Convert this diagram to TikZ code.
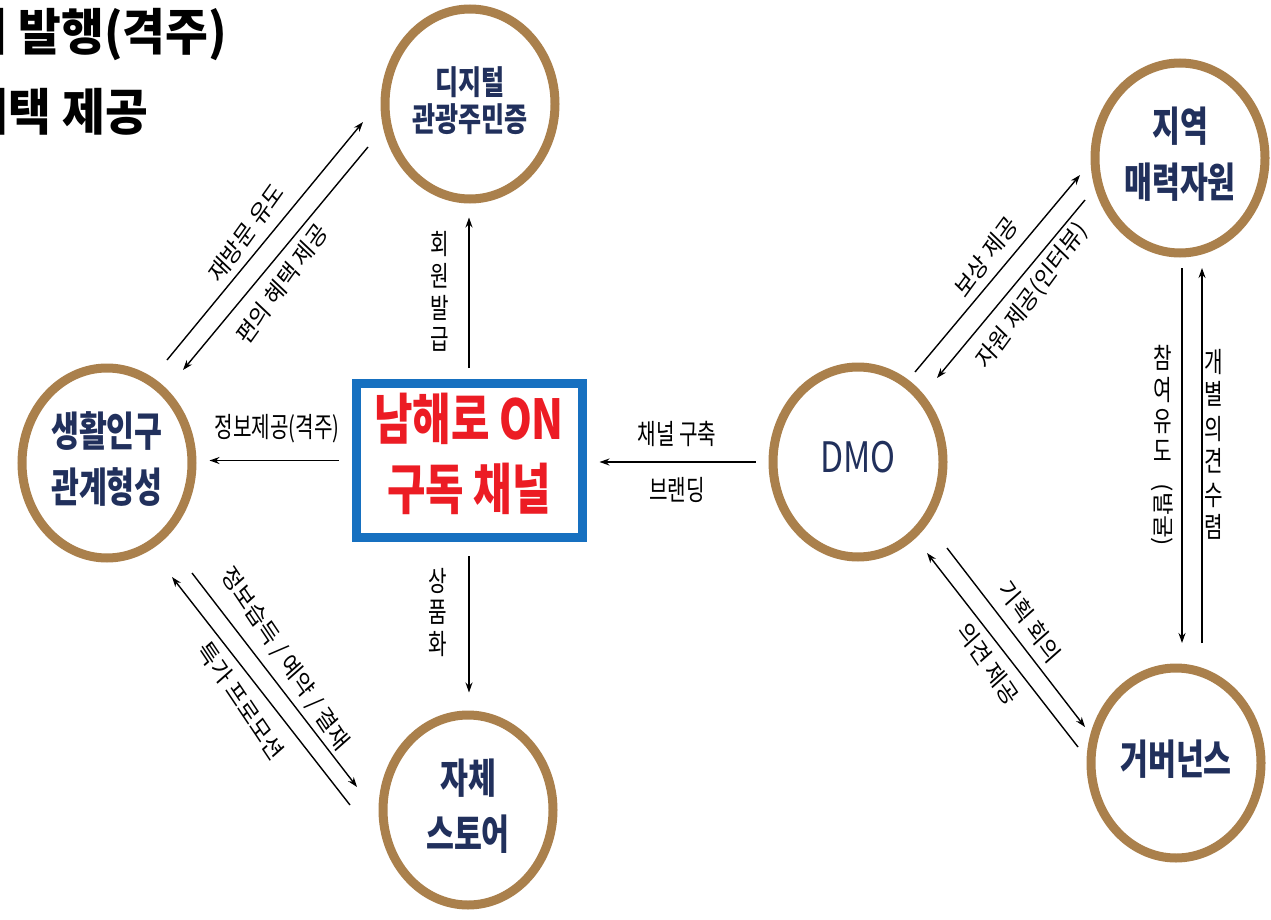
\documentclass[tikz,border=0pt]{standalone}
\usepackage{fontspec}
\usetikzlibrary{shapes.geometric,arrows.meta,shadows}
\newfontfamily\krfont{Noto Sans CJK KR}
\newcommand\sqz[2][0.74]{\scalebox{#1}[1]{\begin{tabular}{@{}c@{}}#2\end{tabular}}}
\definecolor{ringc}{RGB}{170,128,76}
\definecolor{navy}{RGB}{33,48,92}
\definecolor{boxblue}{RGB}{22,112,192}
\definecolor{redtxt}{RGB}{236,28,36}
\definecolor{edgec}{RGB}{212,218,232}
\pgfdeclareradialshading{orb}{\pgfpoint{-10bp}{10bp}}{color(0bp)=(white); color(32bp)=(white); color(62bp)=(edgec)}
\begin{document}
\begin{tikzpicture}[x=1pt,y=-1pt,
  place/.style={ellipse, draw=ringc, line width=9pt, minimum width=170pt, minimum height=190pt,
    inner sep=0pt, shading=orb, text=navy, align=center,
    font=\krfont\bfseries\fontsize{41}{56}\selectfont,
    drop shadow={shadow xshift=2pt, shadow yshift=-3pt, opacity=0.18}},
  chan/.style={draw=boxblue, line width=9pt, fill=white, minimum width=226pt, minimum height=154pt,
    inner sep=0pt, text=redtxt, align=center, font=\krfont\bfseries\fontsize{55}{70}\selectfont},
  lab/.style={font=\krfont\fontsize{28}{30}\selectfont, inner sep=0pt, text=black},
  dlab/.style={font=\krfont\fontsize{21.5}{24}\selectfont, inner sep=0pt, text=black, yscale=1.15},
  arr/.style={line width=1.4pt, -{Stealth[length=10pt,width=7pt]}},
  toptext/.style={anchor=east, inner sep=0pt, font=\krfont\bfseries\fontsize{50}{56}\selectfont}
]
\useasboundingbox (0,0) rectangle (1271,920);
\fill[white] (0,0) rectangle (1271,920);

% top-left heading (cut by the page edge, as in the reference)
\node[toptext] (t1) at (227,35) {\scalebox{0.93}[1]{소식지 발행(격주)}};
\node[toptext] (t2) at (148,112) {\scalebox{0.93}[1]{다양한 혜택 제공}};

% nodes
\node[place, font=\krfont\bfseries\fontsize{33}{32}\selectfont] (dig) at (470,104) {\raisebox{6pt}{\sqz[0.76]{디지털\\관광주민증}}};
\node[place] (life) at (107,463) {\sqz{생활인구\\관계형성}};
\node[place] (store) at (468,810) {\sqz{자체\\스토어}};
\node[place, font=\krfont\fontsize{42}{50}\selectfont] (dmo) at (858,462) {\sqz[0.8]{DMO}};
\node[place] (res) at (1180,158) {\raisebox{4pt}{\sqz{지역\\매력자원}}};
\node[place] (gov) at (1176,763) {\sqz{거버넌스}};
\node[chan] (chan) at (469,460.5) {\sqz[0.76]{남해로 ON\\구독 채널}};

% straight connectors
\draw[arr, shorten <=11pt, shorten >=14pt] (chan.north) -- (chan.north |- dig.south);
\draw[arr, shorten <=14pt, shorten >=18pt] (chan.south) -- (chan.south |- store.north);
\draw[arr, shorten <=13pt, shorten >=13pt] (chan.west) -- (chan.west -| life.east);
\draw[arr, shorten <=13pt, shorten >=13pt] (dmo.west) -- (dmo.west -| chan.east);

% parallel connectors
\coordinate (a1s) at (167,360); \coordinate (a1e) at (363,122);
\coordinate (a2s) at (368,147); \coordinate (a2e) at (183,370);
\coordinate (b1s) at (350,805); \coordinate (b1e) at (172,577);
\coordinate (b2s) at (192,573); \coordinate (b2e) at (357,787);
\coordinate (c1s) at (915,372); \coordinate (c1e) at (1080,175);
\coordinate (c2s) at (1085,200); \coordinate (c2e) at (937,378);
\coordinate (d1s) at (1182,268); \coordinate (d1e) at (1182,643);
\coordinate (d2s) at (1202,643); \coordinate (d2e) at (1202,268);
\coordinate (e1s) at (1078,747); \coordinate (e1e) at (927,553);
\coordinate (e2s) at (947,548); \coordinate (e2e) at (1085,727);
\foreach \p in {a1,a2,b1,b2,c1,c2,d1,d2,e1,e2} \draw[arr] (\p s) -- (\p e);

% labels
\node[lab] (lb1) at (277,430) {\sqz[0.72]{정보제공(격주)}};
\node[lab] (lb2) at (677,437) {\sqz[0.72]{채널 구축}};
\node[lab] (lb3) at (677,493) {\sqz[0.72]{브랜딩}};
\node[lab] (lb4) at (440,295) {\sqz[0.72]{회\\원\\발\\급}};
\node[lab] (lb5) at (438,616) {\sqz[0.72]{상\\품\\화}};
\node[dlab, rotate=50.5] (lb6) at (246,233) {재방문 유도};
\node[dlab, rotate=50.5] (lb7) at (282,284) {편의 혜택 제공};
\node[dlab, rotate=-52.4] (lb8) at (285,659) {정보습득 / 예약 / 결재};
\node[dlab, rotate=-52.4] (lb9) at (241,701) {특가 프로모션};
\node[dlab, rotate=50] (lb10) at (986,257) {보상 제공};
\node[dlab, rotate=50] (lb11) at (1032,296) {자원 제공(인터뷰)};
\node[lab] (lb12) at (1163,408) {\sqz[0.72]{참\\여\\유\\도}};
\node[dlab, rotate=-90] (lb12b) at (1162,515) {(발굴)};
\node[lab] (lb13) at (1214,448) {\sqz[0.72]{개\\별\\[3pt]의\\견\\[3pt]수\\렴}};
\node[dlab, rotate=-52.4] (lb14) at (1030,622) {기획 회의};
\node[dlab, rotate=-52.4] (lb15) at (988,664) {의견 제공};
\end{tikzpicture}
\end{document}
